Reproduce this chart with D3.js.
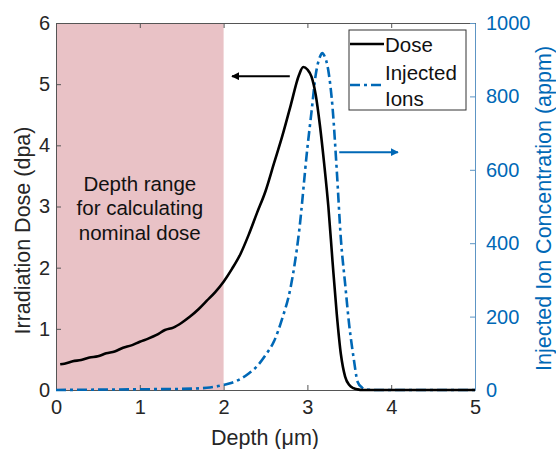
<!DOCTYPE html>
<html>
<head>
<meta charset="utf-8">
<script src="https://cdn.jsdelivr.net/npm/d3@7"></script>
<style>
  html, body { margin: 0; padding: 0; background: #fff; }
  svg { display: block; font-family: "Liberation Sans", Arial, sans-serif; }
</style>
</head>
<body>
<svg id="chart" width="556" height="449"></svg>
<script>
// Depth profile of damage (dpa) and implanted ion concentration (appm)
const doseDepth = [0.05, 0.1, 0.2, 0.3, 0.4, 0.5, 0.6, 0.7, 0.8, 0.9, 1.0, 1.1, 1.2, 1.3, 1.4, 1.5, 1.6, 1.7, 1.8, 1.9, 2.0,
  2.1, 2.2, 2.3, 2.4, 2.5, 2.6, 2.7, 2.8, 2.9, 2.95, 3.0, 3.05, 3.1, 3.15, 3.2, 3.25, 3.3, 3.35, 3.4, 3.45, 3.5, 3.55, 3.6, 3.65, 4.0, 5.0];
const doseValues = [0.42, 0.43, 0.47, 0.49, 0.53, 0.55, 0.60, 0.63, 0.69, 0.73, 0.79, 0.84, 0.90, 0.98, 1.02, 1.10, 1.20, 1.32, 1.46, 1.60, 1.77,
  1.98, 2.22, 2.54, 2.90, 3.25, 3.70, 4.15, 4.65, 5.15, 5.28, 5.24, 5.12, 4.82, 4.32, 3.70, 3.00, 2.10, 1.25, 0.58, 0.22, 0.08, 0.03, 0.01, 0, 0, 0];

const ionDepth = [0, 0.5, 1.0, 1.5, 1.8, 1.9, 2.0, 2.1, 2.2, 2.3, 2.4, 2.5, 2.6, 2.7, 2.8, 2.9, 3.0, 3.05, 3.1, 3.15, 3.18, 3.2, 3.25,
  3.3, 3.35, 3.4, 3.45, 3.5, 3.55, 3.6, 3.65, 3.7, 3.8, 5.0];
const ionValues = [0, 1, 2, 3, 6, 9, 14, 20, 30, 45, 65, 95, 132, 195, 280, 430, 660, 760, 860, 908, 918, 912, 870,
  770, 600, 410, 290, 175, 90, 22, 7, 2, 0, 0];

const xTicks = [0, 1, 2, 3, 4, 5];
const doseTicks = [0, 1, 2, 3, 4, 5, 6];
const ionTicks = [0, 200, 400, 600, 800, 1000];
const shadedRange = [0, 2];
const noteLines = ["Depth range", "for calculating", "nominal dose"];
const legendLabels = ["Dose", "Injected", "Ions"];

const blue = "#0068b6";
const dashDot = "10,4,3,4";
const svg = d3.select("#chart");
const plot = { left: 56, right: 475, top: 23, bottom: 390 };

const x = d3.scaleLinear().domain([0, 5]).range([plot.left, plot.right]);
const yDose = d3.scaleLinear().domain([0, 6]).range([plot.bottom, plot.top]);
const yIon = d3.scaleLinear().domain([0, 1000]).range([plot.bottom, plot.top]);

// shaded depth interval used for the nominal dose
svg.append("rect")
  .attr("x", x(shadedRange[0])).attr("y", plot.top)
  .attr("width", x(shadedRange[1]) - x(shadedRange[0]))
  .attr("height", plot.bottom - plot.top)
  .attr("fill", "#e9c2c6");

// note inside the shaded region
const noteY = [3.38, 2.98, 2.57];
svg.append("g").selectAll("text").data(noteLines).join("text")
  .attr("x", x(1.0)).attr("y", (d, i) => yDose(noteY[i]))
  .attr("text-anchor", "middle").attr("dominant-baseline", "central")
  .attr("font-size", 20.5).attr("fill", "#111")
  .text(d => d);

// axes
const tickFs = 20;
const titleFs = 21.5;
const bottomAxis = svg.append("g").attr("transform", `translate(0,${plot.bottom})`)
  .call(d3.axisBottom(x).tickValues(xTicks).tickFormat(d3.format("d")).tickSize(-5).tickPadding(10).tickSizeOuter(0));
const topAxis = svg.append("g").attr("transform", `translate(0,${plot.top})`)
  .call(d3.axisTop(x).tickValues(xTicks).tickSize(-5).tickFormat("").tickSizeOuter(0));
const leftAxis = svg.append("g").attr("transform", `translate(${plot.left},0)`)
  .call(d3.axisLeft(yDose).tickValues(doseTicks).tickFormat(d3.format("d")).tickSize(-5).tickPadding(6).tickSizeOuter(0));
const rightAxis = svg.append("g").attr("transform", `translate(${plot.right},0)`)
  .call(d3.axisRight(yIon).tickValues(ionTicks).tickFormat(d3.format("d")).tickSize(-5).tickPadding(11).tickSizeOuter(0));

[bottomAxis, topAxis, leftAxis].forEach(g => {
  g.selectAll("path, line").attr("stroke", "#555").attr("stroke-width", 1);
  g.selectAll("text").attr("font-size", tickFs).attr("fill", "#262626").attr("font-family", "Liberation Sans, Arial, sans-serif");
});
rightAxis.selectAll("path, line").attr("stroke", "#5d95c4").attr("stroke-width", 1);
rightAxis.selectAll("text").attr("font-size", tickFs).attr("fill", blue).attr("font-family", "Liberation Sans, Arial, sans-serif");

// axis titles
svg.append("text").attr("x", 265).attr("y", 438)
  .attr("text-anchor", "middle").attr("dominant-baseline", "central")
  .attr("font-size", titleFs).attr("fill", "#262626").text("Depth (μm)");
svg.append("text").attr("transform", `translate(23,${(plot.top + plot.bottom) / 2 + 24}) rotate(-90)`)
  .attr("text-anchor", "middle").attr("dominant-baseline", "central")
  .attr("font-size", titleFs).attr("fill", "#262626").text("Irradiation Dose (dpa)");
svg.append("text").attr("transform", `translate(544,${(plot.top + plot.bottom) / 2 + 2}) rotate(-90)`)
  .attr("text-anchor", "middle").attr("dominant-baseline", "central")
  .attr("font-size", titleFs).attr("fill", blue).text("Injected Ion Concentration (appm)");

// curves
const ionLine = d3.line().x((d, i) => x(ionDepth[i])).y(d => yIon(d)).curve(d3.curveMonotoneX);
svg.append("path").datum(ionValues).attr("d", ionLine)
  .attr("fill", "none").attr("stroke", blue).attr("stroke-width", 2.6)
  .attr("stroke-dasharray", dashDot);

const doseLine = d3.line().x((d, i) => x(doseDepth[i])).y(d => yDose(d)).curve(d3.curveMonotoneX);
svg.append("path").datum(doseValues).attr("d", doseLine)
  .attr("fill", "none").attr("stroke", "#000").attr("stroke-width", 2.6);

// arrows pointing to the corresponding axis
const defs = svg.append("defs");
function marker(id, color) {
  defs.append("marker").attr("id", id).attr("viewBox", "0 0 10 10")
    .attr("refX", 9).attr("refY", 5).attr("markerWidth", 4).attr("markerHeight", 4)
    .attr("orient", "auto-start-reverse")
    .append("path").attr("d", "M0,0 L10,5 L0,10 z").attr("fill", color);
}
marker("headBlack", "#000");
marker("headBlue", blue);
svg.append("line")
  .attr("x1", x(2.79)).attr("x2", x(2.10)).attr("y1", yDose(5.13)).attr("y2", yDose(5.13))
  .attr("stroke", "#000").attr("stroke-width", 2).attr("marker-end", "url(#headBlack)");
svg.append("line")
  .attr("x1", x(3.38)).attr("x2", x(4.08)).attr("y1", yIon(648)).attr("y2", yIon(648))
  .attr("stroke", blue).attr("stroke-width", 2).attr("marker-end", "url(#headBlue)");

// legend
const lg = svg.append("g");
lg.append("rect").attr("x", 349).attr("y", 30).attr("width", 117).attr("height", 80)
  .attr("fill", "#fff").attr("stroke", "#333").attr("stroke-width", 1);
lg.append("line").attr("x1", 350).attr("x2", 384).attr("y1", 44).attr("y2", 44)
  .attr("stroke", "#000").attr("stroke-width", 2.6);
lg.append("line").attr("x1", 350).attr("x2", 384).attr("y1", 85).attr("y2", 85)
  .attr("stroke", blue).attr("stroke-width", 2.6).attr("stroke-dasharray", dashDot);
const legendY = [44, 72, 98];
lg.selectAll("text").data(legendLabels).join("text")
  .attr("x", 385).attr("y", (d, i) => legendY[i])
  .attr("dominant-baseline", "central").attr("font-size", 20.5).attr("fill", "#111")
  .text(d => d);
</script>
</body>
</html>
